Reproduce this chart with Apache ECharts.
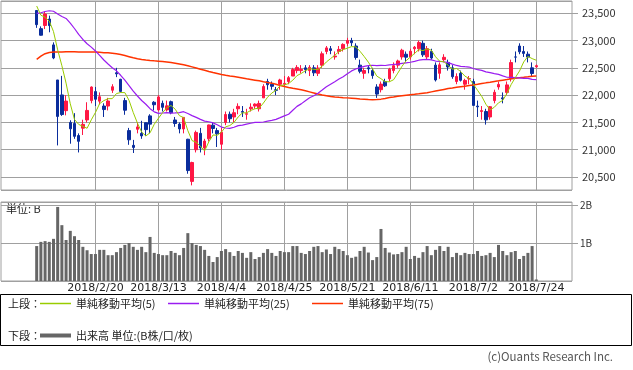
<!DOCTYPE html>
<html><head><meta charset="utf-8">
<script src="https://cdn.jsdelivr.net/npm/echarts@6/dist/echarts.min.js"></script>
<style>html,body{margin:0;padding:0;background:#fff}#c{width:633px;height:370px}</style>
</head><body><div id="c"></div>
<script>
const dates = ["2018/1/30","2018/1/31","2018/2/1","2018/2/2","2018/2/5","2018/2/6","2018/2/7","2018/2/8","2018/2/9","2018/2/13","2018/2/14","2018/2/15","2018/2/16","2018/2/19","2018/2/20","2018/2/21","2018/2/22","2018/2/23","2018/2/26","2018/2/27","2018/2/28",
"2018/3/1","2018/3/2","2018/3/5","2018/3/6","2018/3/7","2018/3/8","2018/3/9","2018/3/12","2018/3/13","2018/3/14","2018/3/15","2018/3/16","2018/3/19","2018/3/20","2018/3/22","2018/3/23","2018/3/26","2018/3/27","2018/3/28","2018/3/29","2018/3/30",
"2018/4/2","2018/4/3","2018/4/4","2018/4/5","2018/4/6","2018/4/9","2018/4/10","2018/4/11","2018/4/12","2018/4/13","2018/4/16","2018/4/17","2018/4/18","2018/4/19","2018/4/20","2018/4/23","2018/4/24","2018/4/25","2018/4/26","2018/4/27",
"2018/5/1","2018/5/2","2018/5/7","2018/5/8","2018/5/9","2018/5/10","2018/5/11","2018/5/14","2018/5/15","2018/5/16","2018/5/17","2018/5/18","2018/5/21","2018/5/22","2018/5/23","2018/5/24","2018/5/25","2018/5/28","2018/5/29","2018/5/30","2018/5/31",
"2018/6/1","2018/6/4","2018/6/5","2018/6/6","2018/6/7","2018/6/8","2018/6/11","2018/6/12","2018/6/13","2018/6/14","2018/6/15","2018/6/18","2018/6/19","2018/6/20","2018/6/21","2018/6/22","2018/6/25","2018/6/26","2018/6/27","2018/6/28","2018/6/29",
"2018/7/2","2018/7/3","2018/7/4","2018/7/5","2018/7/6","2018/7/9","2018/7/10","2018/7/11","2018/7/12","2018/7/13","2018/7/17","2018/7/18","2018/7/19","2018/7/20","2018/7/23","2018/7/24"];

const tickLabels = ["2018/2/20","2018/3/13","2018/4/4","2018/4/25","2018/5/21","2018/6/11","2018/7/2","2018/7/24"];
const priceTicks = [20500,21000,21500,22000,22500,23000,23500];
const volumeTicks = ["1B","2B"];

const opens = [23551,23218,23276,23395,22921,22278,22004,21716,21500,21480,21260,21395,21545,21900,22065,21890,21800,21800,22090,22410,22290,
21900,21350,21080,21375,21300,21495,21620,21870,21730,21850,21730,21880,21545,21470,21380,21192,20420,21000,21300,21030,21200,
21450,21350,21100,21500,21650,21600,21750,21700,21650,21750,21800,21750,21950,22250,22200,22100,22200,22200,22250,22350,
22450,22450,22500,22450,22500,22400,22550,22800,22850,22700,22800,22850,22950,23000,22900,22550,22400,22500,22450,22150,22100,
22250,22300,22450,22550,22700,22750,22700,22850,22850,22950,22700,22800,22550,22400,22650,22600,22500,22250,22400,22200,22300,
22250,21800,21700,21700,21600,21900,22150,21950,22050,22300,22700,22900,22800,22750,22500,22520];
const highs = [23560,23260,23532,23457,22967,22278,22353,22000,21540,21670,21300,21550,21870,22160,22150,22050,21850,21950,22200,22500,22300,
21950,21400,21180,21500,21530,21500,21650,21890,22000,21900,21900,21900,21600,21500,21600,21200,20780,21350,21400,21200,21460,
21500,21400,21400,21700,21700,21750,21850,21800,21750,21850,21850,21900,22200,22300,22250,22150,22300,22350,22350,22500,
22550,22550,22550,22550,22550,22550,22800,22900,22900,22800,22900,22950,23050,23050,22950,22650,22500,22550,22500,22200,22250,
22300,22500,22600,22650,22850,22800,22850,22900,23000,23000,22900,22850,22600,22600,22750,22650,22550,22400,22450,22300,22350,
22300,21900,21800,21750,21800,22100,22250,22050,22250,22650,22800,22950,22900,22800,22600,22560];
const lows = [23233,23092,23211,23152,22659,21079,21620,21630,21110,21200,20950,21270,21500,21850,21800,21830,21600,21720,22040,22330,22050,
21640,21090,20940,21300,21200,21250,21300,21720,21700,21700,21700,21650,21420,21300,21300,20560,20347,20950,20950,20900,21150,
21300,21050,21000,21450,21500,21500,21650,21600,21550,21700,21750,21700,21950,22100,22100,22000,22100,22150,22200,22350,
22400,22400,22400,22350,22350,22350,22500,22750,22750,22650,22750,22800,22900,22900,22650,22400,22300,22400,22300,21950,22050,
22150,22250,22400,22500,22650,22600,22650,22750,22800,22700,22650,22650,22250,22300,22600,22450,22300,22200,22250,22100,22200,
21800,21600,21550,21460,21550,21850,22100,21850,22000,22250,22600,22750,22700,22600,22350,22500];
const closes = [23292,23098,23486,23274,22682,21610,21645,21891,21383,21245,21154,21465,21720,22149,21925,21971,21736,21893,22154,22390,22068,
21724,21182,21042,21418,21253,21368,21469,21824,21968,21777,21804,21677,21481,21381,21592,20618,20766,21317,21031,21159,21454,
21389,21292,21320,21645,21568,21678,21794,21687,21660,21779,21836,21848,22158,22191,22162,22088,22278,22215,22320,22468,
22508,22473,22467,22509,22409,22497,22758,22866,22818,22717,22838,22930,23002,22960,22690,22437,22451,22481,22358,22019,22202,
22171,22476,22540,22626,22823,22695,22804,22878,22966,22739,22852,22680,22278,22555,22693,22517,22338,22342,22272,22270,22305,
21812,21786,21717,21547,21788,22052,22197,21932,22188,22597,22697,22794,22765,22698,22397,22540];

const ma5 = [23633,23464,23427,23356,23166,22830,22539,22220,21842,21555,21464,21428,21393,21547,21683,21846,21900,21935,21936,22029,22048,
22046,21904,21681,21487,21324,21253,21310,21466,21576,21681,21768,21810,21741,21624,21587,21350,21168,21135,21065,20978,21145,
21270,21265,21323,21420,21443,21501,21601,21674,21677,21720,21751,21762,21856,21962,22039,22089,22175,22187,22213,22274,
22358,22397,22447,22485,22473,22471,22528,22608,22670,22731,22799,22834,22861,22889,22884,22804,22708,22604,22483,22349,22302,
22246,22245,22282,22403,22527,22632,22698,22765,22833,22816,22848,22823,22703,22621,22612,22545,22476,22489,22432,22348,22305,
22200,22089,21978,21833,21730,21778,21860,21903,22031,22193,22322,22442,22608,22710,22670,22639];
const ma25 = [23500,23509,23532,23546,23537,23485,23440,23405,23320,23221,23113,23020,22941,22880,22809,22730,22644,22570,22503,22446,22364,
22275,22176,22072,21984,21902,21833,21752,21694,21666,21673,21679,21670,21674,21680,21697,21663,21625,21592,21556,21524,21512,
21492,21458,21415,21398,21392,21412,21442,21452,21469,21485,21500,21501,21508,21525,21539,21556,21588,21621,21650,21724,
21794,21840,21897,21951,21990,22034,22093,22154,22201,22247,22294,22339,22392,22444,22480,22504,22528,22541,22548,22542,22547,
22543,22553,22562,22568,22581,22590,22603,22618,22640,22650,22654,22646,22625,22618,22612,22596,22569,22544,22528,22521,22515,
22488,22466,22453,22427,22412,22395,22381,22354,22328,22324,22320,22317,22309,22307,22289,22283];
const ma75 = [22657,22715,22760,22782,22790,22791,22792,22793,22793,22793,22792,22792,22791,22791,22790,22785,22779,22775,22768,22760,22745,
22725,22705,22685,22668,22655,22645,22636,22628,22622,22615,22608,22598,22586,22572,22555,22538,22518,22497,22475,22455,22435,
22416,22398,22380,22364,22350,22340,22328,22314,22300,22288,22275,22262,22245,22232,22220,22200,22175,22160,22142,22126,
22112,22098,22080,22060,22040,22020,22003,21990,21977,21968,21960,21954,21950,21945,21938,21930,21925,21920,21917,21920,21927,
21940,21955,21966,21980,21990,22000,22008,22016,22025,22035,22044,22060,22075,22090,22105,22120,22132,22145,22155,22165,22175,
22185,22198,22212,22225,22235,22250,22262,22275,22285,22298,22310,22318,22326,22335,22345,22352];
const volumes = [0.92,1.03,1.05,1.03,1.11,1.95,1.47,1.08,1.32,1.18,1.08,0.90,0.81,0.71,0.71,0.82,0.82,0.68,0.68,0.76,0.87,
0.95,1.00,0.90,0.82,0.90,0.76,1.16,0.74,0.71,0.68,0.68,0.79,0.74,0.68,0.87,1.26,1.00,0.95,0.92,0.82,0.66,
0.50,0.63,0.79,0.84,0.76,0.66,0.79,0.74,0.61,0.76,0.58,0.63,0.74,0.84,0.74,0.66,0.79,0.76,0.76,0.92,
0.92,0.74,0.71,0.79,0.90,0.92,0.76,0.83,0.71,0.90,0.84,0.79,0.68,0.61,0.64,0.79,0.90,0.75,0.55,0.63,1.37,
0.87,0.75,0.70,0.71,0.76,0.90,0.58,0.66,0.61,0.76,0.92,0.68,0.82,0.92,0.79,0.90,0.63,0.74,0.68,0.74,0.71,
0.71,0.79,0.66,0.68,0.74,0.63,0.95,0.79,0.68,0.76,0.79,0.58,0.66,0.74,0.92,0.04];

const PAD = 8;
const cats = [];
for (let i = 0; i < PAD; i++) cats.push('_a' + i);
dates.forEach(d => cats.push(d));
for (let i = 0; i < PAD; i++) cats.push('_b' + i);

const FONT = '"Noto Sans CJK JP", "Noto Sans", sans-serif';
const DFONT = '"DejaVu Sans", sans-serif';
const GRID = '#a0a0a0';
const C5 = '#99cc00', C25 = '#9a1cf0', C75 = '#ff3300', CV = '#666666';
const showTick = (idx, val) => tickLabels.indexOf(val) >= 0;

const candleData = dates.map((d, i) => [i + PAD, opens[i], closes[i], lows[i], highs[i]]);
const pair = arr => arr.map((v, i) => [i + PAD, v]);
const legendText = {fontSize: 11, color: '#222', fontFamily: FONT};

const chart = echarts.init(document.getElementById('c'), null, {renderer: 'canvas'});
chart.setOption({
  animation: false,
  backgroundColor: '#fff',
  grid: [
    {left: 1, top: 1, width: 571, height: 189, show: true, borderColor: GRID, borderWidth: 1},
    {left: 1, top: 202, width: 571, height: 79, show: true, borderColor: GRID, borderWidth: 1}
  ],
  xAxis: [
    {type: 'category', gridIndex: 0, data: cats, boundaryGap: true,
     axisLine: {show: false}, axisTick: {show: false}, axisLabel: {show: false},
     splitLine: {show: true, interval: showTick, alignWithLabel: true, lineStyle: {color: GRID, width: 1}}},
    {type: 'category', gridIndex: 1, data: cats, boundaryGap: true,
     axisLine: {show: false}, axisTick: {show: false},
     axisLabel: {show: true, interval: showTick, margin: 2, fontSize: 11, color: '#222', fontFamily: DFONT},
     splitLine: {show: true, interval: showTick, alignWithLabel: true, lineStyle: {color: GRID, width: 1}}}
  ],
  yAxis: [
    {type: 'value', gridIndex: 0, position: 'right', min: 20262, max: 23725, splitNumber: 7, scale: true,
     axisLine: {show: false},
     axisTick: {show: true, length: 6, lineStyle: {color: GRID}},
     axisLabel: {show: true, margin: 10, fontSize: 11, color: '#333', fontFamily: FONT, showMinLabel: false, showMaxLabel: false,
       formatter: v => priceTicks.indexOf(v) >= 0 ? v.toLocaleString('en-US') : ''},
     splitLine: {show: true, lineStyle: {color: GRID, width: 1}}},
    {type: 'value', gridIndex: 1, position: 'right', min: 0, max: 2.08, interval: 1,
     axisLine: {show: false},
     axisTick: {show: true, length: 6, lineStyle: {color: GRID}},
     axisLabel: {show: true, margin: 8, fontSize: 10, color: '#333', fontFamily: FONT, showMinLabel: false, showMaxLabel: false,
       formatter: v => (v >= 1 && v <= 2) ? volumeTicks[v - 1] : ''},
     splitLine: {show: true, lineStyle: {color: GRID, width: 1}}}
  ],
  legend: [
    {data: [{name: '単純移動平均(5)', itemStyle: {color: C5}}], left: 40, top: 298, padding: 0, icon: 'rect', itemWidth: 31, itemHeight: 1.5, selectedMode: false, textStyle: legendText},
    {data: [{name: '単純移動平均(25)', itemStyle: {color: C25}}], left: 168, top: 298, padding: 0, icon: 'rect', itemWidth: 31, itemHeight: 1.5, selectedMode: false, textStyle: legendText},
    {data: [{name: '単純移動平均(75)', itemStyle: {color: C75}}], left: 312, top: 298, padding: 0, icon: 'rect', itemWidth: 31, itemHeight: 1.5, selectedMode: false, textStyle: legendText},
    {data: [{name: '出来高 単位:(B株/口/枚)', itemStyle: {color: CV}}], left: 40, top: 330, padding: 0, icon: 'rect', itemWidth: 31, itemHeight: 4, selectedMode: false, textStyle: legendText}
  ],
  graphic: [
    {type: 'rect', shape: {x: 0.5, y: 294.5, width: 631, height: 51}, style: {fill: 'none', stroke: '#000', lineWidth: 1}, silent: true},
    {type: 'text', left: 8, top: 298, style: {text: '上段：', fontSize: 11, fill: '#222', fontFamily: FONT}},
    {type: 'text', left: 8, top: 330, style: {text: '下段：', fontSize: 11, fill: '#222', fontFamily: FONT}},
    {type: 'text', left: 6, top: 203, style: {text: '単位: B', fontSize: 11, fill: '#222', fontFamily: FONT}},
    {type: 'text', right: 20, top: 351, style: {text: '(c)Ouants Research Inc.', fontSize: 11.5, fill: '#555', fontFamily: FONT}}
  ],
  series: [
    {name: '日足', type: 'candlestick', xAxisIndex: 0, yAxisIndex: 0, data: candleData,
     encode: {x: 0, y: [1, 2, 3, 4]}, barWidth: 3,
     itemStyle: {color: '#ff1744', color0: '#0a2d9c', borderColor: '#ff1744', borderColor0: '#0a2d9c', borderWidth: 1}, z: 2},
    {name: '単純移動平均(5)', type: 'line', xAxisIndex: 0, yAxisIndex: 0, data: pair(ma5), symbol: 'none',
     lineStyle: {color: C5, width: 1}, itemStyle: {color: C5}, z: 5},
    {name: '単純移動平均(25)', type: 'line', xAxisIndex: 0, yAxisIndex: 0, data: pair(ma25), symbol: 'none',
     lineStyle: {color: C25, width: 1.2}, itemStyle: {color: C25}, z: 4},
    {name: '単純移動平均(75)', type: 'line', xAxisIndex: 0, yAxisIndex: 0, data: pair(ma75), symbol: 'none',
     lineStyle: {color: C75, width: 1.5}, itemStyle: {color: C75}, z: 3},
    {name: '出来高 単位:(B株/口/枚)', type: 'bar', xAxisIndex: 1, yAxisIndex: 1, data: pair(volumes), barWidth: 3,
     itemStyle: {color: CV}}
  ]
});
</script></body></html>
